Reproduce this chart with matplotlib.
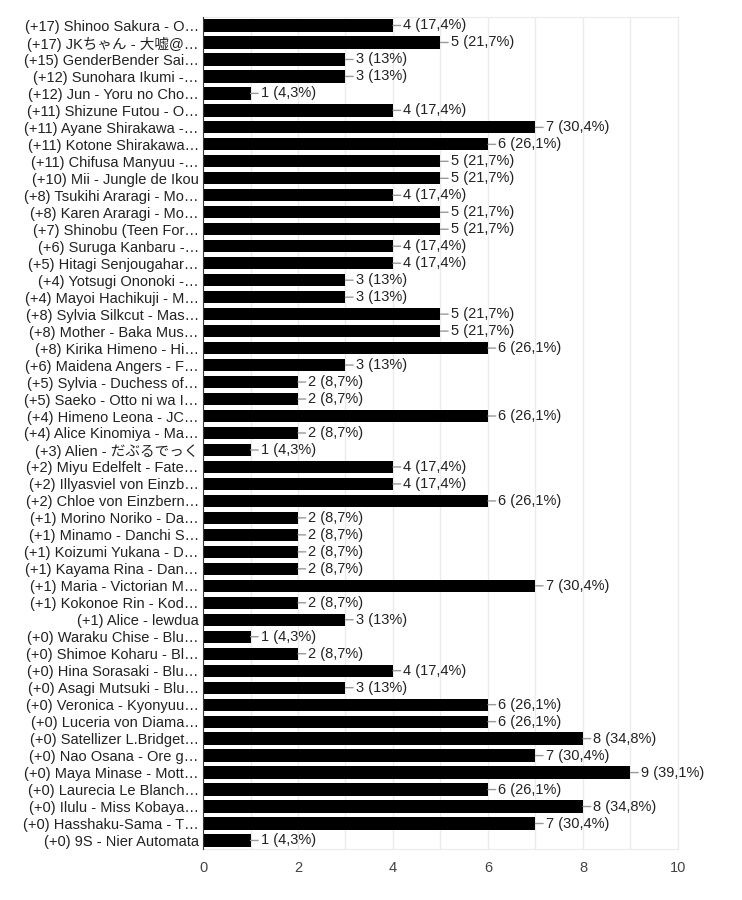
import matplotlib.pyplot as plt

# survey answers (top to bottom)
labels = [
    "(+17) Shinoo Sakura - O…", "(+17) JKちゃん - 大嘘@…", "(+15) GenderBender Sai…",
    "(+12) Sunohara Ikumi -…", "(+12) Jun - Yoru no Cho…", "(+11) Shizune Futou - O…",
    "(+11) Ayane Shirakawa -…", "(+11) Kotone Shirakawa…", "(+11) Chifusa Manyuu -…",
    "(+10) Mii - Jungle de Ikou", "(+8) Tsukihi Araragi - Mo…", "(+8) Karen Araragi - Mo…",
    "(+7) Shinobu (Teen For…", "(+6) Suruga Kanbaru -…", "(+5) Hitagi Senjougahar…",
    "(+4) Yotsugi Ononoki -…", "(+4) Mayoi Hachikuji - M…", "(+8) Sylvia Silkcut - Mas…",
    "(+8) Mother - Baka Mus…", "(+8) Kirika Himeno - Hi…", "(+6) Maidena Angers - F…",
    "(+5) Sylvia - Duchess of…", "(+5) Saeko - Otto ni wa I…", "(+4) Himeno Leona - JC…",
    "(+4) Alice Kinomiya - Ma…", "(+3) Alien - だぶるでっく", "(+2) Miyu Edelfelt - Fate…",
    "(+2) Illyasviel von Einzb…", "(+2) Chloe von Einzbern…", "(+1) Morino Noriko - Da…",
    "(+1) Minamo - Danchi S…", "(+1) Koizumi Yukana - D…", "(+1) Kayama Rina - Dan…",
    "(+1) Maria - Victorian M…", "(+1) Kokonoe Rin - Kod…", "(+1) Alice - lewdua",
    "(+0) Waraku Chise - Blu…", "(+0) Shimoe Koharu - Bl…", "(+0) Hina Sorasaki - Blu…",
    "(+0) Asagi Mutsuki - Blu…", "(+0) Veronica - Kyonyuu…", "(+0) Luceria von Diama…",
    "(+0) Satellizer L.Bridget…", "(+0) Nao Osana - Ore g…", "(+0) Maya Minase - Mott…",
    "(+0) Laurecia Le Blanch…", "(+0) Ilulu - Miss Kobaya…", "(+0) Hasshaku-Sama - T…",
    "(+0) 9S - Nier Automata",
]
counts = [4, 5, 3, 3, 1, 4, 7, 6, 5, 5, 4, 5, 5, 4, 4, 3, 3, 5, 5, 6, 3, 2, 2, 6, 2,
          1, 4, 4, 6, 2, 2, 2, 2, 7, 2, 3, 1, 2, 4, 3, 6, 6, 8, 7, 9, 6, 8, 7, 1]
pcts = ["17,4", "21,7", "13", "13", "4,3", "17,4", "30,4", "26,1", "21,7", "21,7",
        "17,4", "21,7", "21,7", "17,4", "17,4", "13", "13", "21,7", "21,7", "26,1",
        "13", "8,7", "8,7", "26,1", "8,7", "4,3", "17,4", "17,4", "26,1", "8,7",
        "8,7", "8,7", "8,7", "30,4", "8,7", "13", "4,3", "8,7", "17,4", "13",
        "26,1", "26,1", "34,8", "30,4", "39,1", "26,1", "34,8", "30,4", "4,3"]
xticks = [0, 2, 4, 6, 8, 10]

fonts = ["Liberation Sans", "Noto Sans CJK JP", "DejaVu Sans"]
plt.rcParams["font.family"] = fonts

fig = plt.figure(figsize=(7.42, 9.0), dpi=100)
ax = fig.add_axes([0.2736, 0.0567, 0.6401, 0.9244])

ypos = list(range(len(labels)))
ax.barh(ypos, counts, height=0.72, color="black", zorder=3)

for y, v, p in zip(ypos, counts, pcts):
    ax.annotate(f"{v} ({p}%)", xy=(v, y), xytext=(7.5, 0), textcoords="offset points",
                va="center", ha="left", fontsize=10.5, color="#222222",
                arrowprops=dict(arrowstyle="-", color="#999999", lw=1,
                                shrinkA=0, shrinkB=0))

ax.set_xlim(0, 10)
ax.set_ylim(len(labels) - 0.5, -0.5)
ax.set_xticks(range(0, 11), minor=False)
ax.set_xticklabels([str(t) if t in xticks else "" for t in range(0, 11)])
ax.set_yticks(ypos)
ax.set_yticklabels(labels)
ax.tick_params(axis="y", length=0, pad=3, labelsize=10.5, labelcolor="#222222")
ax.tick_params(axis="x", length=0, pad=9, labelsize=10.5, labelcolor="#444444")
ax.grid(axis="x", color="#ebebeb", lw=1, zorder=0)

for s in ["top", "right", "bottom"]:
    ax.spines[s].set_color("#ebebeb")
ax.spines["left"].set_color("#333333")
ax.spines["left"].set_zorder(4)

fig.savefig("out.png", dpi=100)
